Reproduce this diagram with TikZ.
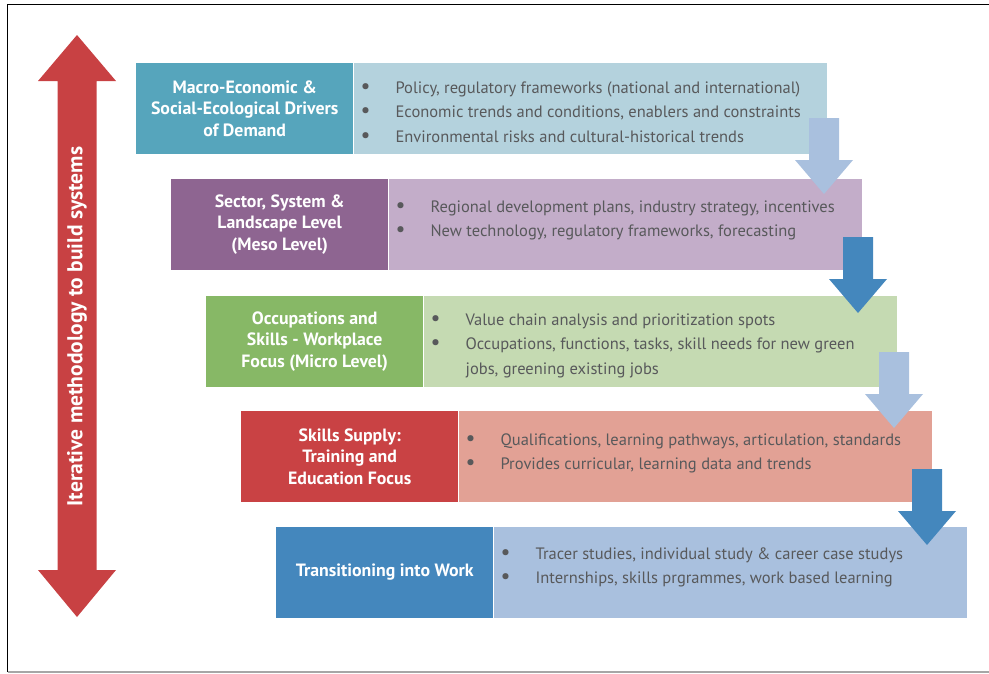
\documentclass[tikz,border=0pt]{standalone}
\usepackage{fontspec}
\setmainfont{PT Sans}
\usetikzlibrary{positioning}

\definecolor{macrodark}{HTML}{56A5BC}
\definecolor{macrolight}{HTML}{B4D2DD}
\definecolor{mesodark}{HTML}{8E6591}
\definecolor{mesolight}{HTML}{C3ADC9}
\definecolor{microdark}{HTML}{87B866}
\definecolor{microlight}{HTML}{C5DAB2}
\definecolor{supplydark}{HTML}{C94244}
\definecolor{supplylight}{HTML}{E2A195}
\definecolor{workdark}{HTML}{4487BD}
\definecolor{worklight}{HTML}{A9C0DE}
\definecolor{cyclered}{HTML}{C84143}
\definecolor{textgray}{HTML}{58595B}

\begin{document}
\begin{tikzpicture}[x=1pt,y=-1pt,
    headbox/.style={anchor=north west, minimum width=217pt, minimum height=90.5pt, inner sep=0pt,
        text=white, align=center, font=\bfseries\fontsize{17.8}{21.5}\selectfont},
    listbox/.style={minimum width=473pt, minimum height=90.5pt, inner sep=0pt},
    listtext/.style={anchor=base west, inner sep=0pt, text=textgray, align=left,
        font=\fontsize{16.5}{24.5}\selectfont}]
    \useasboundingbox (0,0) rectangle (989,673);

    % Frame
    \draw[gray!70, line width=2pt] (7.5,672) -- (989,672);
    \draw[line width=1pt] (7.5,672) -- (7.5,4) -- (989,4);

    % Iterative cycle arrow
    \fill[cyclered] (77,35) -- (116,81) -- (96.5,81) -- (96.5,570) -- (116,570) -- (77,617)
        -- (38,570) -- (57.5,570) -- (57.5,81) -- (38,81) -- cycle;
    \node[rotate=90, text=white, font=\bfseries\fontsize{21.5}{24}\selectfont] (cycle) at (77,326.5)
        {Iterative methodology to build systems};

    \def\bul{\makebox[33pt][l]{\kern-2pt{\fontsize{22}{0}\selectfont\textbullet}}}

    % Levels (text anchored at the baseline of its last line)
    \node[headbox, fill=macrodark] (macro) at (136,63)
        {Macro-Economic \&\\Social-Ecological Drivers\\of Demand};
    \node[listbox, fill=macrolight, right=0pt of macro] (macrolist) {};
    \node[listtext] (macrotext) at ([xshift=9pt, yshift=-79pt]macrolist.north west)
        {\bul Policy, regulatory frameworks (national and international)\\
         \bul Economic trends and conditions, enablers and constraints\\
         \bul Environmental risks and cultural-historical trends};

    \node[headbox, fill=mesodark] (meso) at (171,179)
        {Sector, System \&\\Landscape Level\\(Meso Level)};
    \node[listbox, fill=mesolight, right=0pt of meso] (mesolist) {};
    \node[listtext] (mesotext) at ([xshift=9pt, yshift=-57.5pt]mesolist.north west)
        {\bul Regional development plans, industry strategy, incentives\\
         \bul New technology, regulatory frameworks, forecasting};

    \node[headbox, fill=microdark] (micro) at (206,296)
        {Occupations and\\Skills - Workplace\\Focus (Micro Level)};
    \node[listbox, fill=microlight, right=0pt of micro] (microlist) {};
    \node[listtext] (microtext) at ([xshift=9pt, yshift=-78pt]microlist.north west)
        {\bul Value chain analysis and prioritization spots\\
         \bul Occupations, functions, tasks, skill needs for new green\\
         \hspace*{33pt}jobs, greening existing jobs};

    \node[headbox, fill=supplydark] (supply) at (241,411)
        {Skills Supply:\\Training and\\Education Focus};
    \node[listbox, fill=supplylight, right=0pt of supply] (supplylist) {};
    \node[listtext] (supplytext) at ([xshift=9pt, yshift=-58.5pt]supplylist.north west)
        {\bul Qualifications, learning pathways, articulation, standards\\
         \bul Provides curricular, learning data and trends};

    \node[headbox, fill=workdark] (work) at (276,527)
        {Transitioning into Work};
    \node[listbox, fill=worklight, right=0pt of work] (worklist) {};
    \node[listtext] (worktext) at ([xshift=9pt, yshift=-56.5pt]worklist.north west)
        {\bul Tracer studies, individual study \& career case studys\\
         \bul Internships, skills prgrammes, work based learning};

    % Step arrows between levels
    \def\steparrow(#1,#2)#3{
        \fill[#3] (#1-15,#2) -- (#1+15,#2) -- (#1+15,#2+42) -- (#1+29,#2+42) -- (#1,#2+76)
            -- (#1-29,#2+42) -- (#1-15,#2+42) -- cycle;
    }

    \steparrow(824,118){worklight}
    \steparrow(858,237){workdark}
    \steparrow(894,352){worklight}
    \steparrow(927,469){workdark}

\end{tikzpicture}
\end{document}
